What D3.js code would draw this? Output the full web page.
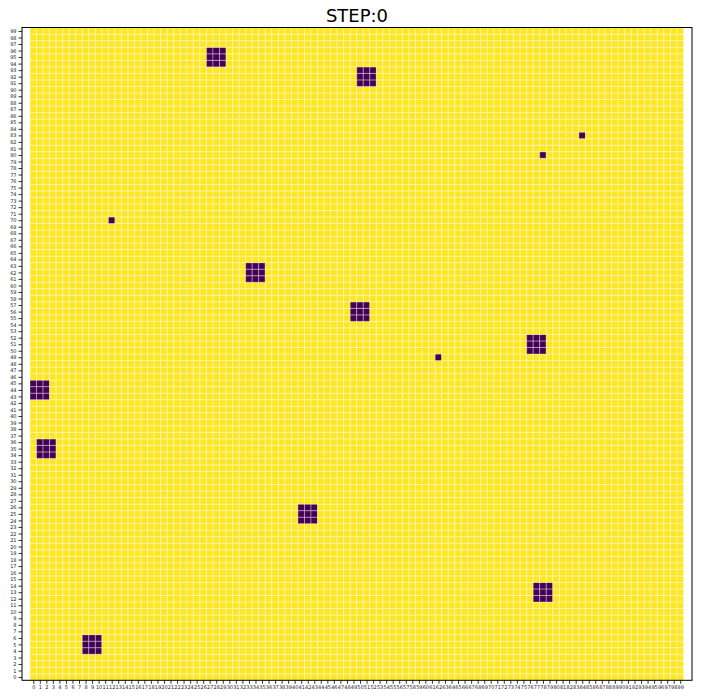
<!DOCTYPE html>
<html><head><meta charset="utf-8">
<script src="https://cdn.jsdelivr.net/npm/d3@7"></script>
<style>body{margin:0;background:#fff}svg{display:block}</style>
</head><body>
<svg id="c" width="702" height="699"></svg>
<script>
const title = "STEP:0";
const gridSize = 100;
// dark blocks: left column, bottom row, size (cells)
const blockCol  = [27, 50, 84, 78, 12, 33, 49, 76, 62, 0, 1, 41, 77, 8];
const blockRow  = [94, 91, 83, 80, 70, 61, 55, 50, 49, 43, 34, 24, 12, 4];
const blockSize = [3, 3, 1, 1, 1, 3, 3, 3, 1, 3, 3, 3, 3, 3];
const colorLow = "#440154", colorHigh = "#fde725";

const cells = [];
for (let r = 0; r < gridSize; r++) for (let c = 0; c < gridSize; c++) cells.push({c, r, v: 1});
blockCol.forEach((bc, i) => {
  for (let dc = 0; dc < blockSize[i]; dc++) for (let dr = 0; dr < blockSize[i]; dr++) {
    cells[(blockRow[i] + dr) * gridSize + bc + dc].v = 0;
  }
});

const svg = d3.select("#c");
const x = d3.scaleLinear().domain([-0.5, gridSize - 0.5]).range([30, 683.5]);
const y = d3.scaleLinear().domain([-0.5, gridSize - 0.5]).range([680.3, 27.7]);
const color = d3.scaleLinear().domain([0, 1]).range([colorLow, colorHigh]);
const w = x(0.5) - x(-0.5), h = y(-0.5) - y(0.5);

svg.append("g").selectAll("rect").data(cells).join("rect")
  .attr("x", d => x(d.c - 0.5)).attr("y", d => y(d.r + 0.5))
  .attr("width", w).attr("height", h)
  .attr("fill", d => color(d.v))
  .attr("stroke", "#fff").attr("stroke-opacity", 0.35).attr("stroke-width", 1);

// frame
svg.append("rect").attr("x", 22).attr("y", 27.5).attr("width", 670).attr("height", 652.8)
  .attr("fill", "none").attr("stroke", "#000").attr("stroke-width", 1);

const ticks = d3.range(gridSize);
const xAxis = svg.append("g").attr("transform", "translate(0,680.3)")
  .call(d3.axisBottom(x).tickValues(ticks).tickFormat(d3.format("d")).tickSize(3.5).tickPadding(2));
const yAxis = svg.append("g").attr("transform", "translate(22,0)")
  .call(d3.axisLeft(y).tickValues(ticks).tickFormat(d3.format("d")).tickSize(3.5).tickPadding(2));
[xAxis, yAxis].forEach(a => {
  a.select(".domain").remove();
  a.selectAll("text").attr("font-family", "DejaVu Sans").attr("font-size", 5).attr("fill", "#222");
  a.selectAll("line").attr("stroke", "#000").attr("stroke-width", 0.8);
});

svg.append("text").attr("x", 357).attr("y", 22).attr("text-anchor", "middle")
  .attr("font-family", "DejaVu Sans").attr("font-size", 18).attr("fill", "#000").text(title);
</script>
</body></html>
